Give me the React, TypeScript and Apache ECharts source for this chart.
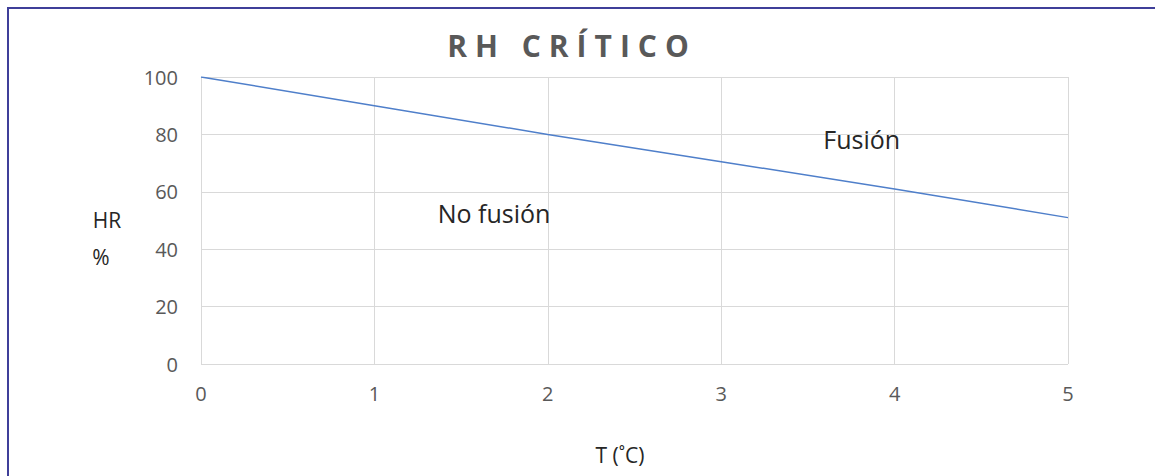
import React, { useEffect, useRef } from "react";
import * as echarts from "echarts";

const temps = [0, 1, 2, 3, 4, 5];
const rhValues = [100, 90, 80, 70.5, 61, 51];
const xTicks = [0, 1, 2, 3, 4, 5];
const yTicks = [0, 20, 40, 60, 80, 100];
const title = "RH CRÍTICO";
const xName = "T (˚C)";
const yNameLines = ["HR", "%"];
const regionLabels = [
  { text: "Fusión", x: 3.81, y: 78.5 },
  { text: "No fusión", x: 1.69, y: 52.5 },
];

export default function App() {
  const ref = useRef<HTMLDivElement>(null);
  useEffect(() => {
    if (!ref.current) return;
    const chart = echarts.init(ref.current, undefined, { renderer: "svg" });
    const font = "'Open Sans', 'Liberation Sans', sans-serif";
    chart.setOption({
      animation: false,
      grid: { left: 201, top: 77, width: 867, height: 287, containLabel: false },
      xAxis: {
        type: "value",
        min: xTicks[0],
        max: xTicks[xTicks.length - 1],
        interval: 1,
        axisLine: { show: false },
        axisTick: { show: false },
        splitLine: { show: true, lineStyle: { color: "#d9d9d9", width: 1 } },
        axisLabel: { color: "#595959", fontSize: 20, margin: 19, fontFamily: font },
      },
      yAxis: {
        type: "value",
        min: yTicks[0],
        max: yTicks[yTicks.length - 1],
        interval: 20,
        axisLine: { show: false },
        axisTick: { show: false },
        splitLine: { show: true, lineStyle: { color: "#d9d9d9", width: 1 } },
        axisLabel: { color: "#595959", fontSize: 20, margin: 23, fontFamily: font },
      },
      series: [
        {
          type: "line",
          data: temps.map((t, i) => [t, rhValues[i]]),
          showSymbol: false,
          lineStyle: { color: "#4f7fca", width: 1.5 },
          markPoint: {
            symbol: "circle",
            symbolSize: 0,
            data: regionLabels.map((r) => ({
              coord: [r.x, r.y],
              label: {
                show: true,
                formatter: r.text,
                color: "#262626",
                fontSize: 25,
                fontFamily: font,
                position: "inside",
              },
            })),
          },
        },
      ],
      graphic: [
        {
          type: "rect",
          shape: { x: 8, y: 8, width: 1200, height: 520 },
          style: { fill: "none", stroke: "#3f3f99", lineWidth: 2 },
          silent: true,
        },
        {
          type: "text",
          x: 568,
          y: 45,
          style: {
            text: title.split("").join("\u2009\u200A"),
            fill: "#595959",
            font: `bold 30px ${font}`,
            align: "center",
            verticalAlign: "middle",
          },
        },
        {
          type: "text",
          x: 620,
          y: 455,
          style: {
            text: xName,
            fill: "#262626",
            font: `21px ${font}`,
            align: "center",
            verticalAlign: "middle",
          },
        },
        {
          type: "text",
          x: 107,
          y: 220,
          style: {
            text: yNameLines[0],
            fill: "#262626",
            font: `21px ${font}`,
            align: "center",
            verticalAlign: "middle",
          },
        },
        {
          type: "text",
          x: 101,
          y: 257,
          style: {
            text: yNameLines[1],
            fill: "#262626",
            font: `21px ${font}`,
            align: "center",
            verticalAlign: "middle",
          },
        },
      ],
    });
    return () => chart.dispose();
  }, []);
  return (
    <div
      ref={ref}
      style={{ position: "fixed", left: 0, top: 0, width: 1155, height: 476, background: "#fff" }}
    />
  );
}
